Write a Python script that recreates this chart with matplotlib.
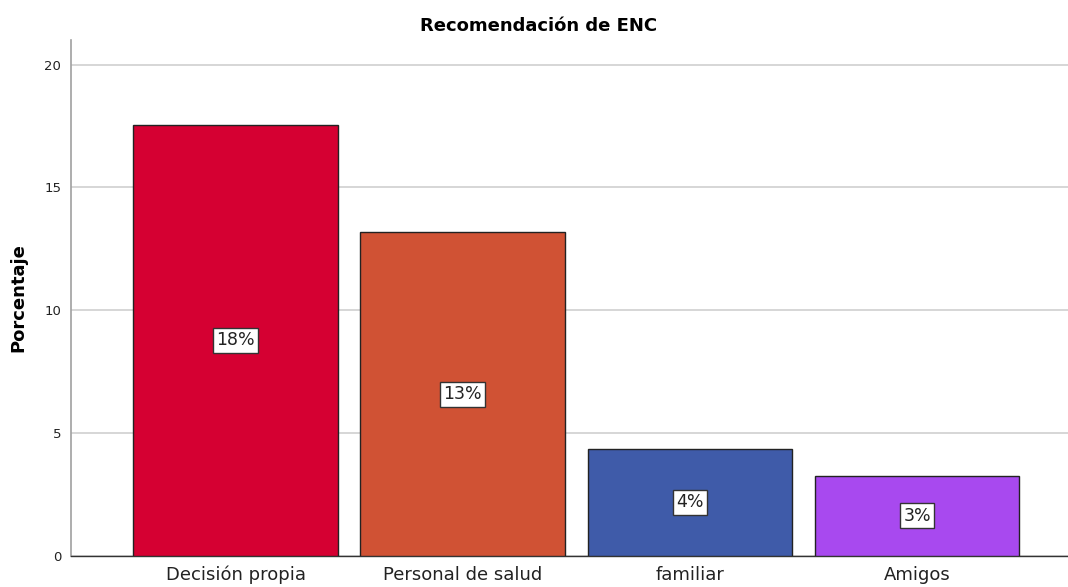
import matplotlib.pyplot as plt
import numpy as np

plt.rcParams['font.family'] = ['DejaVu Sans']

categorias = ['Decisión propia', 'Personal de salud', 'familiar', 'Amigos']
porcentajes = [17.56, 13.17, 4.37, 3.27]
etiquetas = ['18%', '13%', '4%', '3%']
colores = ['#D50032', '#D05234', '#3F5BA9', '#A849EF']

fig = plt.figure(figsize=(10.68, 5.87), dpi=100)
ax = fig.add_axes([71 / 1068, 1 - 556 / 587, (1068 - 71) / 1068, (556 - 40) / 587])

x = np.arange(len(categorias))
bars = ax.bar(x, porcentajes, width=0.9, color=colores, edgecolor='#222222',
              linewidth=1.0, zorder=3)

for b, txt in zip(bars, etiquetas):
    ax.text(b.get_x() + b.get_width() / 2, b.get_height() / 2, txt,
            ha='center', va='center', fontsize=12.5, color='#222222', zorder=4,
            bbox=dict(boxstyle='square,pad=0.2', facecolor='white',
                      edgecolor='#333333', linewidth=1.0))

ax.set_xlim(-0.724, 3.664)
ax.set_ylim(0, 21.0)
ax.set_yticks([0, 5, 10, 15, 20])
ax.set_xticks(x)
ax.set_xticklabels(categorias, fontsize=13, color='#222222')
ax.tick_params(axis='y', labelsize=9.5, length=0, pad=7, colors='#222222')
ax.tick_params(axis='x', length=0, pad=7)
ax.yaxis.grid(True, color='#D0D0D0', linewidth=1.2, zorder=0)
ax.set_axisbelow(True)

for s in ['top', 'right']:
    ax.spines[s].set_visible(False)
ax.spines['left'].set_color('#A0A0A0')
ax.spines['left'].set_linewidth(1.2)
ax.spines['bottom'].set_color('#333333')
ax.spines['bottom'].set_linewidth(1.0)

ax.set_ylabel('Porcentaje', fontsize=13, fontweight='bold', labelpad=12)
fig.text(539 / 1068, 1 - 26 / 587, 'Recomendación de ENC', ha='center', va='center',
         fontsize=13, fontweight='bold')

fig.savefig('out.png', dpi=100)
